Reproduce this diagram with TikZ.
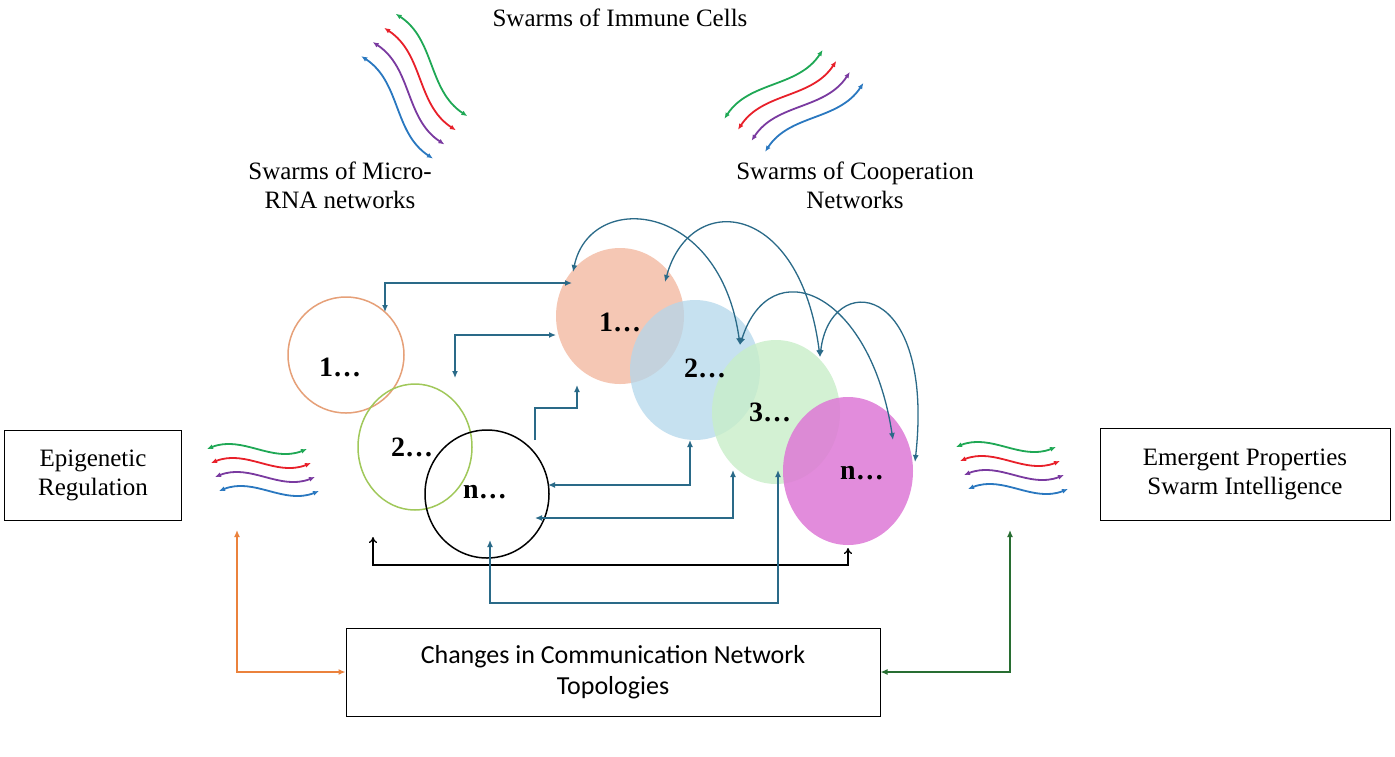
\documentclass[tikz,border=0pt]{standalone}
\usepackage{fontspec}
\setmainfont{Liberation Serif}
\newfontfamily\carl{Carlito}
\usetikzlibrary{arrows.meta,shapes.geometric}
\definecolor{teal1}{HTML}{2A6A88}
\definecolor{wg}{HTML}{1FA855}
\definecolor{wr}{HTML}{E8202A}
\definecolor{wp}{HTML}{7A3AA0}
\definecolor{wb}{HTML}{2A78C0}
\definecolor{cone}{RGB}{230,160,120}
\definecolor{ctwo}{RGB}{160,200,90}
\definecolor{bone}{RGB}{244,190,168}
\definecolor{btwo}{RGB}{180,215,235}
\definecolor{bthree}{RGB}{200,238,200}
\definecolor{bfour}{RGB}{222,120,214}
\definecolor{orline}{RGB}{235,130,60}
\definecolor{grline}{RGB}{40,110,50}
\tikzset{
  con/.style={teal1, line width=1.3pt, {Latex[length=7pt,width=6pt]}-{Latex[length=7pt,width=6pt]}},
  conb/.style={black, line width=1.3pt, {To[length=6pt,width=8pt]}-{To[length=6pt,width=8pt]}},
  strand/.style={line width=1.8pt, {Latex[length=6pt,width=5pt]}-{Latex[length=6pt,width=5pt]}},
  numtxt/.style={font=\fontsize{28}{30}\selectfont\bfseries},
  lbl/.style={font=\fontsize{25}{29}\selectfont, align=center},
  boxn/.style={draw, line width=1pt, align=center},
  wave/.pic={
    \foreach \c [count=\i from 0] in {wg,wr,wp,wb}{
      \draw[strand,\c] ({-50+4*\i},{-21+14*\i}) .. controls ({-15+4*\i},{-35+14*\i}) and ({15+4*\i},{-7+14*\i}) .. ({50+4*\i},{-21+14*\i});
    }
  }
}
\begin{document}
\begin{tikzpicture}[x=1pt,y=-1pt]
\path[use as bounding box, fill=white] (0,0) rectangle (1395,756);

% texts
\node[lbl] (t1) at (620,18) {Swarms of Immune Cells};
\node[lbl] (t2) at (340,185) {Swarms of Micro-\\RNA networks};
\node[lbl] (t3) at (855,185) {Swarms of Cooperation\\Networks};

% waves
\pic at (410,80) [rotate=-55, scale=1.25] {wave};
\pic at (788,105) [rotate=35, scale=1.2] {wave};
\pic at (257,470) {wave};
\pic at (1006,468) {wave};

% left circles
\node[draw=cone, line width=1.5pt, ellipse, minimum width=116pt, minimum height=116pt, inner sep=0pt] (c1) at (346,355) {};
\node[draw=ctwo, line width=1.5pt, ellipse, minimum width=114pt, minimum height=126pt, inner sep=0pt] (c2) at (415,447) {};
\node[draw=black, line width=1.5pt, ellipse, minimum width=124pt, minimum height=128pt, inner sep=0pt] (cn) at (487,494) {};
\node[numtxt] at (340,367) {1\dots};
\node[numtxt] at (412,447) {2\dots};
\node[numtxt] at (485,492) {n\dots};

% big circles
\fill[bone, opacity=0.85] (620,316) ellipse (64 and 68);
\node (b1) at (620,316) {};
\fill[btwo, opacity=0.75] (695,370) ellipse (65 and 70);
\node (b2) at (695,370) {};
\fill[bthree, opacity=0.8] (776,412) ellipse (64 and 72);
\node (b3) at (776,412) {};
\fill[bfour, opacity=0.85] (848,471) ellipse (65 and 74);
\node (bn) at (848,471) {};
\node[numtxt] at (620,322) {1\dots};
\node[numtxt] at (705,368) {2\dots};
\node[numtxt] at (770,412) {3\dots};
\node[numtxt] at (862,473) {n\dots};

% connector endpoints
\coordinate (p1) at (385,312); \coordinate (q1) at (572,283);
\coordinate (p2) at (455,378); \coordinate (q2) at (556,335);
\coordinate (p3) at (535,440); \coordinate (q3) at (577,385);
\coordinate (p4) at (548,485); \coordinate (q4) at (690,440);
\coordinate (p5) at (535,518); \coordinate (q5) at (733,470);
\coordinate (p6) at (373,537); \coordinate (q6) at (848,548);
\coordinate (p7) at (490,540); \coordinate (q7) at (778,470);
\coordinate (k3) at (577,408); \coordinate (k6) at (848,565); \coordinate (k7) at (778,603);

\draw[con] (p1) |- (q1);
\draw[con] (p2) |- (q2);
\draw[teal1, line width=1.3pt, -{Latex[length=7pt,width=6pt]}] (p3) |- (k3) -- (q3);
\draw[con] (p4) -| (q4);
\draw[con] (p5) -| (q5);
\draw[conb] (p6) |- (k6) -- (q6);
\draw[con] (p7) |- (k7) -- (q7);

% arcs
\coordinate (a1) at (573,272); \coordinate (a2) at (740,345);
\coordinate (a3) at (665,282); \coordinate (a4) at (820,357);
\coordinate (a5) at (893,440); \coordinate (a6) at (915,462);
\draw[con] (a1) .. controls (590,190) and (720,200) .. (a2);
\draw[con] (a3) .. controls (690,190) and (800,200) .. (a4);
\draw[con] (a2) .. controls (770,250) and (870,290) .. (a5);
\draw[con] (a4) .. controls (830,270) and (935,280) .. (a6);

% boxes
\node[boxn, lbl, minimum width=177pt, minimum height=90pt] (epi) at (93,475) {Epigenetic\\Regulation};
\node[boxn, lbl, minimum width=290pt, minimum height=92pt] (emg) at (1245,474) {Emergent Properties\\Swarm Intelligence};
\node[boxn, minimum width=534pt, minimum height=88pt, font=\carl\fontsize{26}{31}\selectfont] (chg) at (613,672) {Changes in Communication Network\\Topologies};

\coordinate (o1) at (237,530); \coordinate (g1) at (1010,530);
\draw[orline, line width=1.3pt, {Latex[length=7pt,width=6pt]}-{Latex[length=7pt,width=6pt]}] (o1) |- (chg.west);
\draw[grline, line width=1.3pt, {Latex[length=7pt,width=6pt]}-{Latex[length=7pt,width=6pt]}] (g1) |- (chg.east);
\end{tikzpicture}
\end{document}
